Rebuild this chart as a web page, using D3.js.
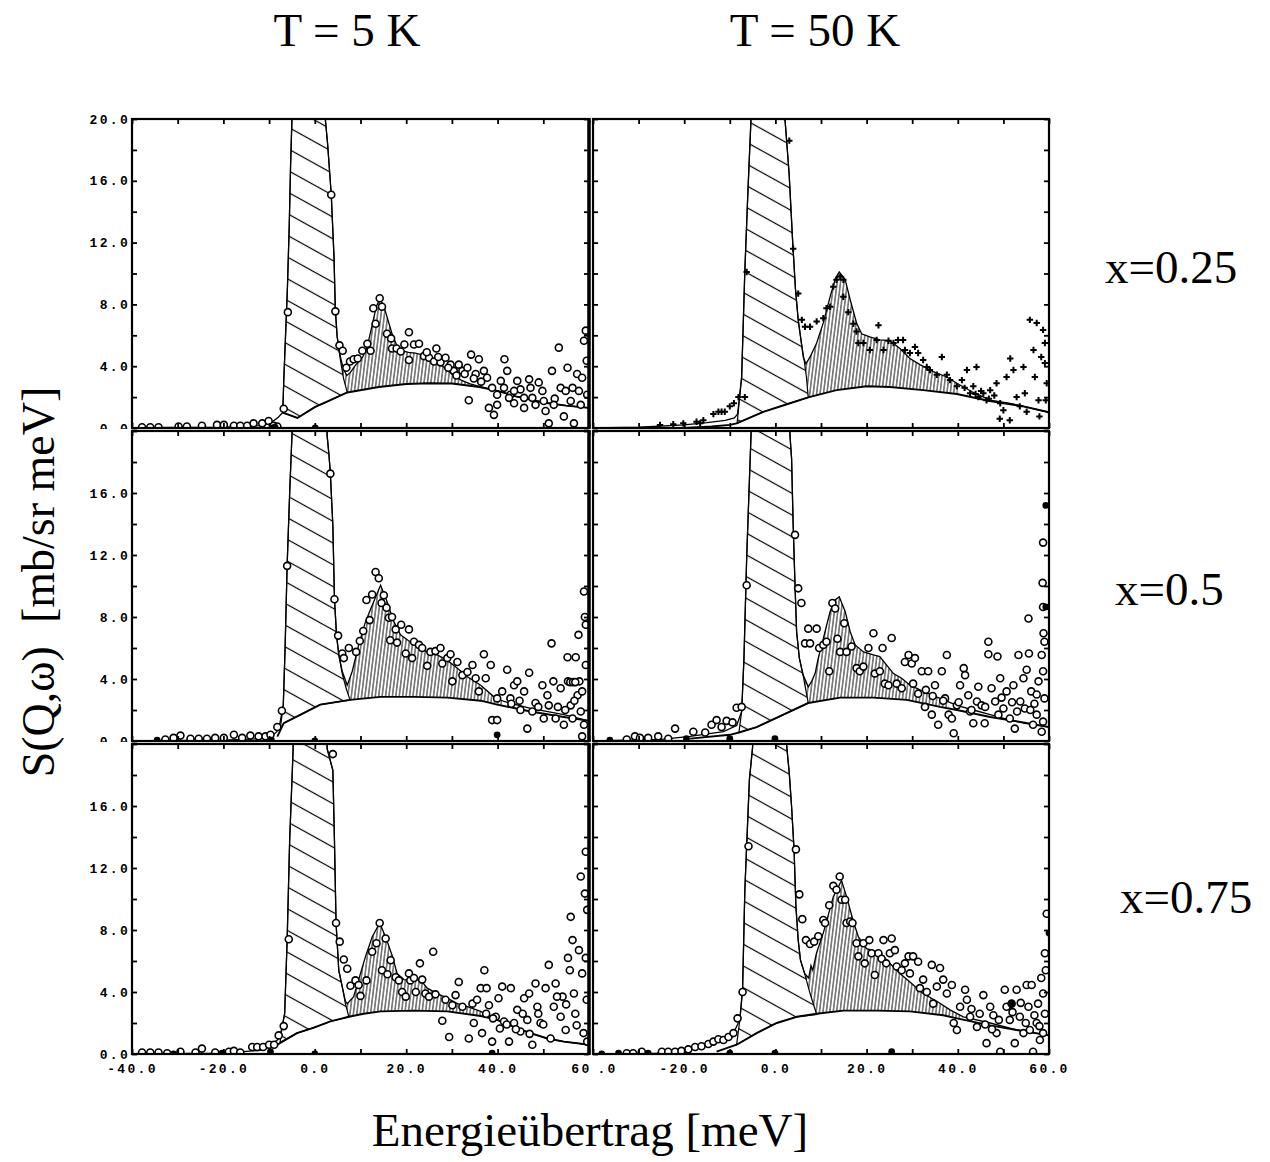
<!DOCTYPE html>
<html>
<head>
<meta charset="utf-8">
<script src="https://cdn.jsdelivr.net/npm/d3@7"></script>
<style>
body { margin: 0; background: #fff; }
</style>
</head>
<body>
<script>
// ---- labels / ticks ----
var colTitles = ["T = 5 K", "T = 50 K"];
var rowLabels = ["x=0.25", "x=0.5", "x=0.75"];
var xTicks = [-40, -20, 0, 20, 40, 60];
var yTicksTop = [0, 4, 8, 12, 16, 20];
var yTicks = [0, 4, 8, 12, 16];

// ---- T = 5 K, x = 0.25 ----
var fit_5K_25 = [[-40,0.02],[-20,0.05],[-12,0.15],[-9.5,0.35],[-8.0,0.7],[-7.0,1.0],[-6.8,3],[-6.4,6],[-6.0,9],[-5.6,13],[-5.3,17],[-5.0,20],[-4.7,23],[2.0,23],[2.3,20],[2.8,18.4],[3.6,15.1],[4.2,11.1],[4.5,7.6],[4.9,5.9],[5.6,4.6],[6.3,3.8],[7.0,3.4],[7.8,3.6],[9,4.1],[10.5,4.6],[11.5,5.3],[12.5,6.6],[13.5,7.9],[14.2,8.3],[15,8.0],[16,7.0],[17,6.0],[18,5.3],[19,5.0],[20.5,4.9],[22,4.85],[24,4.7],[26,4.4],[28,4.0],[30,3.5],[32,3.1],[34,2.85],[36,2.7],[40,2.4],[44,2.05],[50,1.65],[55,1.45],[60,1.3]];
var base_5K_25 = [[-7.0,1.0],[-3.8,0.65],[0,1.35],[3.4,1.8],[7.1,2.3],[14,2.65],[20,2.85],[25,2.9],[30,2.88],[36,2.65],[40,2.4],[44,2.05],[50,1.65],[55,1.45],[60,1.3]];
var elastic_5K_25 = [[-7.0,1.0],[-6.8,3],[-6.4,6],[-6.0,9],[-5.6,13],[-5.3,17],[-5.0,20],[-4.7,23],[2.0,23],[2.3,20],[2.8,18.4],[3.6,15.1],[4.2,11.1],[4.5,7.6],[4.9,5.9],[5.6,4.4],[6.3,3.2],[7.1,2.3]];
var inel_5K_25 = [5.6, 36];
var pts_5K_25 = [[-37.8,0.05],[-36,0.05],[-34.2,0.05],[-29.8,0.1],[-28,0.1],[-24.7,0.15],[-21.4,0.2],[-19.9,0.2],[-17.7,0.15],[-16.3,0.15],[-14.8,0.15],[-13.4,0.3],[-11.5,0.3],[-10.1,0.45],[-9,0.15],[-8.2,0.1],
  [-6.8,1.25],[-5.9,7.5],[3.6,15.1],[4.5,7.55],[5.4,5.35],[6.1,5.0],[6.9,3.9],[7.7,4.3],[8.5,4.45],[9.4,4.5],[10.4,5.0],[11.5,5.45],[12.2,5.0],[12.8,7.75],[13.3,6.75],[14.2,8.4],[14.7,7.85],[15.8,6.1],[16.7,5.8],[16.9,5.15],[17.9,5.15],[18.8,4.95],[19.6,5.4],[20.6,6.2],[20.6,4.4],[21.7,5.4],[22.8,5.45],[23.9,4.65],[25,4.55],[26.6,5.15],[26.1,4.3],[27.5,4.25],[28.6,4.55],[29.7,4.1],[30.4,3.7],[31.5,4.1],[32.3,3.7],[33.4,3.9],[34.2,4.75],[33.7,1.8],[35.2,3.5],[35.9,4.45],[37,3.7],[38.1,1.3],[39.2,0.85],[39.9,1.5],[40.7,3.05],[41.5,4.45],[42.1,3.7],[42.8,2.15],[43.6,1.6],[44.3,3.05],[45,2.5],[45.8,1.3],[46.9,3.15],[47.6,1.95],[48.3,1.5],[49,2.95],[49.8,2.4],[50.5,1.1],[51.2,0.3],[51.9,3.7],[52.5,1.9],[53.4,5.2],[53.8,2.6],[54.5,0.75],[55.3,3.9],[56,1.75],[56.7,0.3],[57.4,3.5],[58.2,1.5],[58.5,3.25],[58.9,5.65],[59.3,6.3],[59.5,4.35],[59.6,2.15],
  [37.7,3.25],[38.8,2.6],[39.9,2.15],[41.4,2.6],[42.5,1.95],[43.6,2.4],[45.8,1.95],[47.2,2.6],[50.1,1.75],[52.3,1.5],[54.9,2.4],[56.4,2.6],[57.8,2.4],[24.5,4.9],[27,4.6],[29.2,3.9],[31,3.4],[32.8,3.5],[34.8,3.2],[36.4,3.0]];
var dots_5K_25 = [[-9.2,0],[-8.7,0.05],[0.1,0]];

// ---- T = 50 K, x = 0.25 ----
var fit_50K_25 = [[-40,0],[-30,0.05],[-20,0.2],[-15,0.35],[-11,0.5],[-9,0.65],[-8.3,0.9],[-7.4,3.3],[-6.7,10.2],[-6.0,15.5],[-5.35,20],[-5.0,23],[1.8,23],[2.1,20],[3.0,16.5],[3.8,12],[4.4,9],[5.0,7.0],[5.7,5.5],[6.1,4.6],[6.7,4.15],[7.6,4.6],[9.05,5.5],[10.5,6.8],[12,8.5],[13.2,9.7],[14,10.1],[15.3,9.6],[16.4,8.3],[17.8,6.8],[18.9,6.1],[20.7,5.9],[22.9,5.7],[25.1,5.65],[27.3,5.15],[29.5,4.5],[31.7,4.1],[34.6,3.65],[37.6,3.3],[39.8,2.9],[43.4,2.3],[47.1,1.8],[51.5,1.6],[54.4,1.4],[59.5,1.05],[60,1.0]];
var base_50K_25 = [[-20,0],[-14,0.1],[-10,0.2],[-8.5,0.3],[-2.65,1.05],[3.2,1.6],[7.2,1.98],[13.4,2.45],[20,2.7],[25.1,2.65],[32.4,2.45],[39.8,2.2],[47,1.75],[54.4,1.4],[59.5,1.05],[60,1.0]];
var elastic_50K_25 = [[-8.4,0.3],[-7.4,3.3],[-6.7,10.2],[-6.0,15.5],[-5.35,20],[-5.0,23],[1.8,23],[2.1,20],[3.0,16.5],[3.8,12],[4.4,9],[5.0,7.0],[5.7,5.5],[6.3,4.4],[6.8,3.3],[7.2,1.98]];
var inel_50K_25 = [6.1, 40];
var pts_50K_25 = [[-25.3,0.2],[-22.4,0.25],[-20.2,0.3],[-17.3,0.4],[-16.5,0.3],[-15.8,0.5],[-13.6,0.9],[-12.5,1.05],[-11.8,1.05],[-11.1,1.05],[-10,1.4],[-9.1,1.6],[-8.1,2.0],[-6.7,2.0],[-6.3,10.1],[3.05,18.6],[3.9,11.6],[5.0,8.7],[5.8,7.0],[6.5,6.55],[7.6,6.55],[9.05,6.9],[10.5,7.1],[11.2,7.75],[12,7.85],[12.7,9.15],[13.4,9.6],[14.2,9.8],[14.9,9.6],[14.9,8.5],[16,7.5],[17.1,6.75],[17.8,6.25],[18.2,5.5],[19.3,5.5],[20.7,5.05],[22.2,5.7],[22.6,6.65],[23.7,5.05],[24.8,5.65],[25.9,5.5],[26.9,5.7],[28,5.7],[28.4,5.05],[29.5,4.85],[30.6,5.25],[31.3,4.85],[32.4,4.4],[33.2,3.95],[33.9,3.75],[35.4,3.45],[36.5,4.6],[37.6,3.45],[38.3,3.1],[39.8,2.7],[40.9,3.1],[42,3.75],[42.7,2.25],[43.4,2.7],[44.1,3.95],[44.5,2.0],[45.6,2.25],[46.3,1.8],[47.1,2.45],[48.5,2.9],[49.3,1.6],[50,1.15],[50.7,3.3],[51.5,4.5],[52.2,3.75],[52.9,2.0],[53.6,1.4],[54.4,3.95],[54.7,2.25],[55.1,1.05],[55.8,7.0],[56.6,5.05],[56.9,3.3],[57.3,6.8],[57.7,1.8],[57.9,0.75],[58.7,6.35],[59.1,5.5],[59.1,4.2],[59.5,2.9],[59.3,1.8],[58.3,4.6],[49.2,0.6],[51.4,0.5],[41.5,2.6],[43.9,2.2],[45.1,2.4],[46.8,1.9],[48,2.1]];
var dots_50K_25 = [];

// ---- T = 5 K, x = 0.5 ----
var fit_5K_50 = [[-40,0],[-20,0.05],[-12,0.15],[-9.5,0.3],[-8.3,0.6],[-7.6,1.2],[-6.9,2.3],[-6.5,6],[-6.05,11.35],[-5.5,16],[-5.0,19.7],[-4.8,23],[2.5,23],[2.7,19.7],[3.1,18.45],[3.4,17.3],[3.95,13.9],[4.3,9.2],[4.75,6.85],[5.25,5.55],[6.0,4.5],[7.1,3.6],[8.2,4.5],[9.6,6.2],[11.1,7.7],[12.9,9.0],[14.4,10.05],[15.8,9.0],[17.3,7.7],[18.75,6.85],[20.6,6.45],[22.4,6.1],[24.6,5.75],[26.8,5.55],[29.0,5.2],[31.2,4.7],[33.4,4.15],[36.3,3.6],[39.2,2.85],[41.4,2.55],[47.2,2.1],[54.5,1.7],[60,1.3]];
var base_5K_50 = [[-8.2,0.28],[-6.8,1.15],[-3.1,1.7],[1.2,2.35],[7.7,2.65],[14.4,2.85],[21.7,2.85],[29,2.8],[36.3,2.6],[39.9,2.35],[47.2,1.9],[54.5,1.55],[60,1.3]];
var elastic_5K_50 = [[-7.6,0.7],[-6.9,2.3],[-6.5,6],[-6.05,11.35],[-5.5,16],[-5.0,19.7],[-4.8,23],[2.5,23],[2.7,19.7],[3.1,18.45],[3.4,17.3],[3.95,13.9],[4.3,9.2],[4.75,6.85],[5.25,5.55],[6.0,4.35],[6.85,3.4],[7.7,2.65]];
var inel_5K_50 = [6.0, 41];
var pts_5K_50 = [[-32.7,0.1],[-30.9,0.2],[-29.4,0.35],[-27.2,0.15],[-25.4,0.15],[-23.6,0.15],[-21.8,0.2],[-19.9,0.2],[-17.7,0.4],[-15.9,0.2],[-14.1,0.35],[-12.3,0.3],[-10.8,0.3],[-9.7,0.4],[-8.2,0.9],[-7.2,1.95],
  [-6.05,11.3],[3.4,17.25],[4.3,9.15],[5.1,6.8],[6.0,5.65],[6.35,5.35],[7.45,6.0],[9.05,5.75],[9.85,6.45],[10.6,7.1],[11.3,9.1],[12.0,7.8],[12.55,9.45],[13.3,10.9],[14.0,10.5],[14.6,8.9],[15.1,9.4],[15.7,8.6],[16.2,7.95],[16.9,8.0],[17.7,7.2],[16.5,6.5],[18.0,6.35],[18.9,7.5],[20.6,7.2],[19.9,5.65],[21.3,5.35],[21.7,6.4],[22.8,6.2],[23.5,6.0],[24.6,4.85],[25.3,5.75],[26.4,5.8],[27.5,6.0],[27.9,5.0],[29,5.35],[29.7,5.6],[30.1,3.85],[31.2,5.1],[32.3,4.25],[33.4,4.45],[34.5,4.9],[35.2,4.05],[35.9,3.2],[37,5.6],[37.4,4.05],[38.5,4.9],[38.8,1.35],[39.9,1.35],[39.9,2.75],[41,3.2],[42.1,4.6],[42.8,2.75],[43.6,3.6],[44.3,3.85],[45,2.0],[45.8,3.2],[46.9,4.4],[46.5,0.8],[47.6,1.9],[48.3,2.45],[49.8,3.6],[50.1,1.45],[50.9,2.95],[51.8,6.3],[52.2,3.85],[52.7,1.45],[53.8,3.4],[54.5,1.05],[55.3,5.4],[55.4,3.85],[56,2.3],[56.4,1.45],[57.1,5.4],[57.5,2.95],[57.7,6.85],[57.9,3.85],[58.2,1.9],[58.5,0.3],[58.9,9.65],[59.1,8.0],[59.3,7.5],[59.3,4.9],[58.9,1.05],[58.5,3.2],
  [43,2.4],[44.8,2.6],[48.9,2.2],[51.2,2.3],[53.2,2.2],[54.8,2.0],[56.8,2.6],[55.9,3.8],[56.5,3.8],[57,3.8]];
var dots_5K_50 = [[-34.5,0.05],[39.9,0.4],[-9.5,0.05],[0,0]];

// ---- T = 50 K, x = 0.5 ----
var fit_50K_50 = [[-40,0],[-25,0.1],[-18.7,0.3],[-11.4,0.6],[-8.5,1.0],[-7.4,1.9],[-6.9,5.3],[-6.3,11.8],[-5.8,16],[-5.35,19.7],[-5.1,23],[3.0,23],[3.2,19.7],[3.55,18.2],[3.9,13.9],[4.3,10.1],[4.65,7.05],[5.25,5.35],[6.1,4.25],[7.2,3.5],[7.95,3.85],[8.7,4.35],[9.4,5.35],[10.5,6.6],[12.0,8.35],[13.1,9.1],[14.0,9.3],[15.3,8.35],[16.4,7.05],[17.5,6.2],[19.3,5.75],[21.5,5.55],[22.9,5.45],[24.4,4.9],[25.9,4.35],[27.7,4.05],[29.5,3.6],[32.4,3.2],[36.1,2.75],[39.8,2.3],[43.4,2.0],[47.1,1.7],[51.5,1.35],[54.4,1.15],[60,0.9]];
var base_50K_50 = [[-18.7,0.15],[-10,0.4],[-8.0,0.55],[-4.1,0.9],[1.75,1.7],[7.2,2.45],[14.2,2.8],[21.5,2.8],[28.8,2.65],[36.1,2.2],[39.8,2.0],[47.1,1.55],[54.4,1.2],[60,0.9]];
var elastic_50K_50 = [[-8.0,0.55],[-7.4,1.9],[-6.9,5.3],[-6.3,11.8],[-5.8,16],[-5.35,19.7],[-5.1,23],[3.0,23],[3.2,19.7],[3.55,18.2],[3.9,13.9],[4.3,10.1],[4.65,7.05],[5.25,5.35],[6.1,4.2],[7.2,2.45]];
var inel_50K_50 = [6.1, 38];
var pts_50K_50 = [[-32.6,0.1],[-30.8,0.3],[-29.7,0.2],[-27.9,0.2],[-25.7,0.3],[-23.5,0.15],[-22,0.8],[-18,0.6],[-15.4,0.55],[-14,1.05],[-12.9,1.35],[-11.8,0.9],[-10.7,1.3],[-9.4,1.2],[-8.5,2.15],[-7.4,2.2],
  [-6.3,10.05],[4.3,13.3],[5.0,9.85],[5.7,8.9],[6.5,6.3],[7.2,7.25],[7.6,6.3],[9.05,7.25],[9.6,6.0],[10.5,6.2],[11.2,6.4],[11.8,4.5],[12.5,8.9],[13.1,8.55],[13.6,6.6],[14.2,5.75],[15.1,7.6],[15.6,5.75],[16.7,6.1],[17.8,4.7],[18.5,4.5],[19.3,4.8],[20.4,6.0],[21.5,6.95],[21.8,4.35],[22.9,4.5],[23.5,6.0],[24.0,3.7],[24.8,3.6],[25.5,6.65],[26.6,3.7],[27.7,3.4],[28.4,5.1],[29.2,5.55],[29.9,5.0],[30.6,5.35],[31.3,3.05],[32.1,4.5],[32.8,2.2],[33.5,4.5],[34.3,1.7],[35,3.6],[35.7,1.05],[36.5,4.5],[37.2,2.75],[37.6,5.55],[38,1.7],[38.7,1.45],[39.1,0.5],[39.8,2.3],[40.5,3.6],[41.3,4.7],[41.6,4.25],[42.3,2.95],[42.7,1.9],[43.4,1.15],[44.2,2.55],[44.5,3.5],[45.2,2.3],[45.9,1.15],[46.7,6.4],[46.7,5.6],[47.4,3.4],[48.2,2.55],[48.7,5.45],[48.9,1.7],[49.3,4.05],[50,2.1],[50.7,3.2],[51.4,1.45],[52.2,3.6],[52.5,0.8],[53.3,5.55],[53.7,2.55],[54.4,4.05],[54.7,2.1],[55.1,4.6],[55.5,7.9],[55.6,5.65],[56.1,3.2],[56.5,1.05],[57.3,1.7],[57.7,3.85],[58.4,5.55],[58.6,10.2],[58.7,8.65],[58.7,12.8],[58.8,6.95],[59.0,6.4],[58.7,4.5],[59.0,2.75],[58.7,1.25],[58.4,0.6],
  [30.2,3.7],[33,3.3],[34.5,2.9],[36.8,2.6],[40.2,2.5],[43,2.0],[46,2.2],[49.6,2.8],[51.9,2.5],[53,1.9],[56.8,2.4],[57.3,3.0],[55.9,2.0]];
var dots_50K_50 = [[-36.3,0.05],[-19.5,0.15],[-10,0.15],[-0.1,0.15],[59.3,15.2],[59.3,8.65]];

// ---- T = 5 K, x = 0.75 ----
var fit_5K_75 = [[-40,0],[-20,0.05],[-11.2,0.25],[-8.2,0.9],[-7.6,1.2],[-7.15,1.75],[-6.6,2.6],[-6.05,7.35],[-5.5,13.8],[-4.75,19.6],[-4.6,23],[2.5,23],[2.7,19.7],[3.95,18.3],[4.3,13.8],[4.65,8.45],[5.25,5.4],[6.0,4.35],[6.7,3.4],[7.1,3.25],[8.5,3.7],[9.6,4.8],[11.1,6.3],[12.55,7.55],[14.2,8.45],[15.5,7.55],[17.0,6.3],[18.0,5.2],[19.5,4.8],[21.7,4.75],[23.1,4.8],[24.6,4.25],[26.8,3.9],[29,3.6],[31.2,3.25],[33.4,3.05],[36.3,2.75],[39.9,2.2],[43.6,1.75],[47.2,1.35],[50.9,1.0],[54.5,0.8],[60,0.6]];
var base_5K_75 = [[-8.2,0.6],[-3.9,1.35],[-0.2,1.7],[3.4,2.1],[7.45,2.4],[10.7,2.6],[14.4,2.75],[21.7,2.8],[29,2.75],[36.3,2.45],[39.9,2.2],[43.6,1.75],[47.2,1.35],[50.9,1.0],[54.5,0.8],[60,0.6]];
var elastic_5K_75 = [[-7.6,0.75],[-7.15,1.75],[-6.6,2.6],[-6.05,7.35],[-5.5,13.8],[-4.75,19.6],[-4.6,23],[2.5,23],[2.7,19.7],[3.95,18.3],[4.3,13.8],[4.65,8.45],[5.25,5.4],[6.0,4.35],[6.7,3.25],[7.45,2.4]];
var inel_5K_75 = [6.0, 40];
var pts_5K_75 = [[-37.8,0.1],[-36,0.1],[-34.2,0.1],[-32.3,0.05],[-29.4,0.15],[-26.1,0.1],[-24.7,0.35],[-21.8,0.1],[-18.8,0.15],[-17.7,0.2],[-16.3,0.1],[-13.7,0.45],[-12.6,0.45],[-11.3,0.45],[-10,0.6],[-8.9,0.6],[-7.9,1.2],[-6.8,1.8],
  [-5.7,7.4],[3.95,19.35],[4.65,8.45],[5.45,7.25],[6.35,6.1],[7.1,5.5],[7.8,4.4],[8.9,4.75],[9.6,4.45],[10,3.75],[11.3,4.75],[12.55,6.6],[13.5,7.15],[14.2,8.45],[14.7,5.4],[15.5,7.45],[15.9,5.15],[16.6,6.05],[17.7,4.95],[18.4,4.75],[19.1,4.0],[19.9,3.7],[20.6,5.2],[20.9,4.75],[21.7,4.9],[22.1,4.0],[23.0,5.85],[23.5,4.8],[24.2,3.9],[25,3.7],[25.9,6.6],[26.4,3.85],[27.9,2.15],[28.6,3.5],[29.4,1.1],[30.1,3.15],[30.8,3.8],[31.5,4.65],[32.3,3.05],[33.7,1.0],[34.5,3.25],[34.8,2.0],[35.5,3.5],[36.3,4.25],[36.6,1.35],[37.1,5.4],[37.6,4.25],[38.1,3.15],[38.8,0.8],[39.6,2.4],[40.5,1.65],[41,4.35],[41.4,2.1],[42.5,0.8],[42.9,4.25],[43.6,2.0],[44.3,2.85],[45,1.45],[45.8,3.6],[46.9,3.9],[46.5,2.2],[47.6,0.6],[48.3,4.55],[48.7,3.05],[49.4,2.0],[50.5,4.25],[51.2,5.75],[51.6,1.0],[52.3,3.05],[52.7,4.55],[53.8,2.4],[54.2,3.7],[54.9,1.55],[55.4,6.2],[55.8,5.4],[56,8.85],[56.4,7.35],[56.7,3.9],[57.3,1.85],[57.8,6.7],[58.2,11.45],[58.5,5.2],[58.8,1.35],[59.1,10.35],[59.3,13.05],[59.3,6.2],[59.5,3.5],[59.6,9.3],[59.6,0.8],
  [37.5,2.6],[39,2.3],[40.2,3.6],[42,1.9],[44,1.6],[45.5,2.6],[47,1.3],[48.9,2.6],[50,1.9],[53,3.7],[55,3.2],[57,2.6]];
var dots_5K_75 = [[-30.9,0],[-20.3,0.05],[-9.7,0.15],[0,0],[38.8,0.05]];

// ---- T = 50 K, x = 0.75 ----
var fit_50K_75 = [[-40,0],[-26,0.05],[-18.7,0.35],[-12.9,0.8],[-9.2,1.35],[-7.8,2.2],[-7.2,4.15],[-6.7,10.6],[-5.7,17.7],[-5.0,19.8],[-4.8,23],[2.3,23],[2.5,19.8],[3.05,18.1],[3.55,15.95],[4.1,13.15],[4.5,9.5],[5.0,7.35],[5.5,6.05],[6.4,5.2],[7.3,4.9],[7.8,5.7],[8.2,5.4],[9,6.5],[10.5,7.8],[12.7,10.15],[14.5,11.2],[15.6,10.15],[17.1,8.55],[18.2,7.55],[20,6.8],[22.2,6.6],[23.7,6.3],[25.1,5.85],[27.3,5.2],[29.5,4.65],[32.4,3.9],[35.4,3.4],[38.3,2.85],[41.2,2.4],[47.1,2.0],[52.9,1.55],[60,1.2]];
var base_50K_75 = [[-12.9,0.15],[-8.5,0.6],[-4.1,1.35],[0.3,2.0],[4.7,2.4],[9.05,2.6],[14.9,2.8],[22.2,2.8],[29.5,2.75],[36.8,2.5],[39.8,2.3],[47.1,1.85],[52.9,1.55],[60,1.2]];
var elastic_50K_75 = [[-8.5,0.6],[-7.8,2.2],[-7.2,4.15],[-6.7,10.6],[-5.7,17.7],[-5.0,19.8],[-4.8,23],[2.3,23],[2.5,19.8],[3.05,18.1],[3.55,15.95],[4.1,13.15],[4.5,9.5],[5.0,7.35],[5.5,6.05],[6.4,5.2],[7.6,3.9],[9.05,2.55]];
var inel_50K_75 = [6.4, 41];
var pts_50K_75 = [[-32.6,0.05],[-31.2,0.05],[-29.3,0.15],[-24.9,0.15],[-23.5,0.15],[-22,0.15],[-20.6,0.2],[-19.1,0.3],[-17.6,0.45],[-16.2,0.5],[-14.7,0.65],[-13.6,0.8],[-12.5,0.95],[-11.4,0.9],[-10.3,1.1],[-9.2,1.35],[-8.3,2.3],[-7.2,4.0],
  [-5.9,13.4],[4.5,13.2],[5.25,10.3],[5.9,8.7],[6.7,7.35],[7.6,7.1],[8.5,7.25],[9.4,7.6],[10.5,8.65],[10.9,8.45],[11.8,9.6],[12.7,10.85],[13.4,10.6],[14.1,11.45],[14.5,9.95],[15.3,9.95],[15.6,8.45],[16.4,8.55],[16.9,8.45],[17.8,7.15],[18.2,6.3],[19.3,7.15],[19.6,5.85],[20.6,7.35],[21.1,6.5],[21.8,5.1],[22.6,6.5],[23.3,6.15],[23.7,7.35],[24.3,5.85],[25.1,6.5],[25.5,7.45],[26.2,6.7],[26.6,5.65],[27.7,5.4],[28.4,5.85],[29.2,6.3],[29.5,5.2],[30.2,6.3],[31.3,5.95],[31.7,4.25],[32.4,4.8],[33.2,4.0],[34.3,5.75],[34.6,3.25],[35.4,4.35],[36.1,5.55],[36.8,4.8],[37.6,3.9],[38.7,4.45],[39.1,2.0],[39.8,1.55],[40.5,3.05],[41.6,4.15],[42,3.5],[42.7,2.4],[44.2,1.75],[45.6,3.8],[46.3,0.7],[47.1,3.05],[47.8,2.5],[48.5,1.35],[49.3,0.15],[50.3,4.15],[50.7,3.05],[51.4,2.2],[51.8,3.25],[52.5,0.7],[52.9,4.15],[53.6,2.4],[54.4,1.35],[55.1,4.45],[55.5,3.05],[55.8,1.55],[56.2,4.45],[56.5,0.15],[57.3,2.0],[57.6,3.25],[58,0.9],[58.3,4.9],[58.7,3.9],[59.1,6.5],[59.3,5.4],[59.5,9.05],[59.1,2.6],[58.7,1.35],
  [43,2.9],[44.8,2.6],[46,1.9],[47.5,1.6],[49,2.2],[52,2.7],[53.8,3.3],[56.8,2.5],[57.9,1.8],[54.9,2.0]];
var dots_50K_75 = [[-38.1,0],[-34.4,0.05],[-27.9,0.05],[-10,0.05],[-0.1,0.05],[25.5,0.15],[60,7.8],[51.8,3.25]];

var panels = [
  {row: 0, col: 0, fit: fit_5K_25, base: base_5K_25, elastic: elastic_5K_25, inel: inel_5K_25, pts: pts_5K_25, dots: dots_5K_25, mark: "circle"},
  {row: 0, col: 1, fit: fit_50K_25, base: base_50K_25, elastic: elastic_50K_25, inel: inel_50K_25, pts: pts_50K_25, dots: dots_50K_25, mark: "plus"},
  {row: 1, col: 0, fit: fit_5K_50, base: base_5K_50, elastic: elastic_5K_50, inel: inel_5K_50, pts: pts_5K_50, dots: dots_5K_50, mark: "circle"},
  {row: 1, col: 1, fit: fit_50K_50, base: base_50K_50, elastic: elastic_50K_50, inel: inel_50K_50, pts: pts_50K_50, dots: dots_50K_50, mark: "circle"},
  {row: 2, col: 0, fit: fit_5K_75, base: base_5K_75, elastic: elastic_5K_75, inel: inel_5K_75, pts: pts_5K_75, dots: dots_5K_75, mark: "circle"},
  {row: 2, col: 1, fit: fit_50K_75, base: base_50K_75, elastic: elastic_50K_75, inel: inel_50K_75, pts: pts_50K_75, dots: dots_50K_75, mark: "circle"}
];

// ---- layout ----
var W = 1270, H = 1162;
var colX = [[132, 589], [593, 1049]];
var rowY = [[119, 428], [431, 741], [744, 1054]];
var serif = "'Liberation Serif', 'Times New Roman', serif";
var fmt = function(d){ return d.toFixed(1); };

var svg = d3.select("body").append("svg")
    .attr("width", W).attr("height", H)
    .style("display", "block").style("background", "#fff");
var defs = svg.append("defs");

// diagonal hatch for the elastic line
var pd = defs.append("pattern").attr("id", "diag").attr("patternUnits", "userSpaceOnUse")
    .attr("width", 24).attr("height", 19).attr("patternTransform", "rotate(29)");
pd.append("rect").attr("width", 24).attr("height", 19).attr("fill", "#fff");
pd.append("line").attr("x1", 0).attr("x2", 24).attr("y1", 9.5).attr("y2", 9.5)
    .attr("stroke", "#000").attr("stroke-width", 1.2);

// dense near-vertical hatch for the inelastic part
var pv = defs.append("pattern").attr("id", "vert").attr("patternUnits", "userSpaceOnUse")
    .attr("width", 3.4).attr("height", 20).attr("patternTransform", "rotate(7)");
pv.append("line").attr("x1", 1.7).attr("x2", 1.7).attr("y1", 0).attr("y2", 20)
    .attr("stroke", "#000").attr("stroke-width", 0.9);

function noDomain(sel){
    sel.select(".domain").remove();
    sel.selectAll(".tick line").attr("stroke", "#000").attr("stroke-width", 1.8);
}
function labStyle(sel){
    sel.select(".domain").remove();
    sel.selectAll("text")
        .style("font-family", "'Liberation Mono', 'DejaVu Sans Mono', monospace")
        .style("font-weight", "bold").style("font-size", "13px")
        .style("letter-spacing", "2.3px").attr("fill", "#000");
}

panels.forEach(function(p, i){
    var x0 = colX[p.col][0], x1 = colX[p.col][1];
    var y0 = rowY[p.row][0], y1 = rowY[p.row][1];
    var x = d3.scaleLinear().domain([-40, 60]).range([x0, x1]);
    var y = d3.scaleLinear().domain([0, 20]).range([y1, y0]);
    var line = d3.line().x(function(d){ return x(d[0]); }).y(function(d){ return y(d[1]); });

    defs.append("clipPath").attr("id", "cp" + i).append("rect")
        .attr("x", x0).attr("y", y0).attr("width", x1 - x0).attr("height", y1 - y0);
    defs.append("clipPath").attr("id", "ci" + i).append("rect")
        .attr("x", x(p.inel[0])).attr("y", y0)
        .attr("width", x(p.inel[1]) - x(p.inel[0])).attr("height", y1 - y0);

    var g = svg.append("g");
    var inner = g.append("g").attr("clip-path", "url(#cp" + i + ")");

    // inelastic area between total fit and background
    inner.append("g").attr("clip-path", "url(#ci" + i + ")")
        .append("path")
        .attr("d", line(p.fit.concat(p.base.slice().reverse())) + "Z")
        .attr("fill", "url(#vert)");

    // elastic area
    var e0 = p.elastic[0][0], e1 = p.elastic[p.elastic.length - 1][0];
    var under = p.base.filter(function(d){ return d[0] > e0 && d[0] < e1; }).reverse();
    inner.append("path")
        .attr("d", line(p.elastic.concat(under)) + "Z")
        .attr("fill", "url(#diag)").attr("stroke", "#000").attr("stroke-width", 1.2);

    inner.append("path").attr("d", line(p.base))
        .attr("fill", "none").attr("stroke", "#000").attr("stroke-width", 1.9);
    inner.append("path").attr("d", line(p.fit))
        .attr("fill", "none").attr("stroke", "#000").attr("stroke-width", 1.3);

    if (p.mark === "plus") {
        inner.selectAll("path.pt").data(p.pts).join("path").attr("class", "pt")
            .attr("d", function(d){
                var cx = x(d[0]), cy = y(d[1]);
                return "M" + (cx - 3.2) + "," + cy + "h6.4M" + cx + "," + (cy - 3.2) + "v6.4";
            })
            .attr("stroke", "#000").attr("stroke-width", 2);
    } else {
        inner.selectAll("circle.pt").data(p.pts).join("circle").attr("class", "pt")
            .attr("cx", function(d){ return x(d[0]); })
            .attr("cy", function(d){ return y(d[1]); })
            .attr("r", 3.5).attr("fill", "#fff").attr("stroke", "#000").attr("stroke-width", 1.6);
    }
    inner.selectAll("circle.dot").data(p.dots).join("circle").attr("class", "dot")
        .attr("cx", function(d){ return x(d[0]); })
        .attr("cy", function(d){ return y(d[1]); })
        .attr("r", 3.4).attr("fill", "#000");

    // inward ticks on all four sides
    var t10 = d3.range(-40, 61, 10), t2 = d3.range(0, 21, 2);
    g.append("g").attr("transform", "translate(0," + y1 + ")")
        .call(d3.axisBottom(x).tickValues(t10).tickSize(-5).tickFormat("")).call(noDomain);
    g.append("g").attr("transform", "translate(0," + y0 + ")")
        .call(d3.axisTop(x).tickValues(t10).tickSize(-5).tickFormat("")).call(noDomain);
    g.append("g").attr("transform", "translate(" + x0 + ",0)")
        .call(d3.axisLeft(y).tickValues(t2).tickSize(-5).tickFormat("")).call(noDomain);
    g.append("g").attr("transform", "translate(" + x1 + ",0)")
        .call(d3.axisRight(y).tickValues(t2).tickSize(-5).tickFormat("")).call(noDomain);

    g.append("rect").attr("x", x0).attr("y", y0).attr("width", x1 - x0).attr("height", y1 - y0)
        .attr("fill", "none").attr("stroke", "#000").attr("stroke-width", 2.2);
    if (p.col === 0) {
        g.append("line").attr("x1", x1).attr("x2", x1).attr("y1", y0 - 1).attr("y2", y1 + 1)
            .attr("stroke", "#000").attr("stroke-width", 3.5);
    }

    // tick labels; the two labels at the column seam are only partly visible in the original
    defs.append("clipPath").attr("id", "cl" + i).append("rect")
        .attr("x", p.col === 0 ? 0 : 591).attr("y", y0 - 12)
        .attr("width", p.col === 0 ? 591 : W - 591)
        .attr("height", (p.row < 2 ? y1 + 1 : H) - (y0 - 12));
    var lab = svg.append("g").attr("clip-path", "url(#cl" + i + ")");
    if (p.col === 0) {
        lab.append("g").attr("transform", "translate(" + x0 + ",0)")
            .call(d3.axisLeft(y).tickValues(p.row === 0 ? yTicksTop : yTicks)
                .tickSize(0).tickPadding(2).tickFormat(fmt))
            .call(labStyle);
    }
    if (p.row === 2) {
        var xa = lab.append("g").attr("transform", "translate(0," + y1 + ")")
            .call(d3.axisBottom(x).tickValues(xTicks).tickSize(0).tickPadding(10).tickFormat(fmt))
            .call(labStyle);
        xa.selectAll(".tick text").each(function(d){
            var t = d3.select(this);
            if (p.col === 0 && d === 60) t.text("60").attr("text-anchor", "end").attr("x", 2);
            if (p.col === 1 && d === -40) t.text(".0").attr("text-anchor", "start").attr("x", 4);
        });
    }
});

// column titles
var titleX = [347, 815];
svg.selectAll("text.coltitle").data(colTitles).join("text").attr("class", "coltitle")
    .attr("x", function(d, i){ return titleX[i]; }).attr("y", 46)
    .attr("text-anchor", "middle")
    .style("font-family", serif).style("font-size", "47px").text(function(d){ return d; });

// row labels
var rowLabX = [1105, 1115, 1120], rowLabY = [283, 605, 913];
svg.selectAll("text.rowlab").data(rowLabels).join("text").attr("class", "rowlab")
    .attr("x", function(d, i){ return rowLabX[i]; })
    .attr("y", function(d, i){ return rowLabY[i]; })
    .style("font-family", serif).style("font-size", "47px").text(function(d){ return d; });

// axis titles
svg.append("text")
    .attr("transform", "translate(54,582) rotate(-90)")
    .attr("text-anchor", "middle")
    .attr("xml:space", "preserve").style("white-space", "pre")
    .style("font-family", serif).style("font-size", "46px")
    .text("S(Q,\u03c9)  [mb/sr meV]");

svg.append("text")
    .attr("x", 590).attr("y", 1146).attr("text-anchor", "middle")
    .style("font-family", serif).style("font-size", "47px")
    .text("Energie\u00fcbertrag [meV]");
</script>
</body>
</html>
